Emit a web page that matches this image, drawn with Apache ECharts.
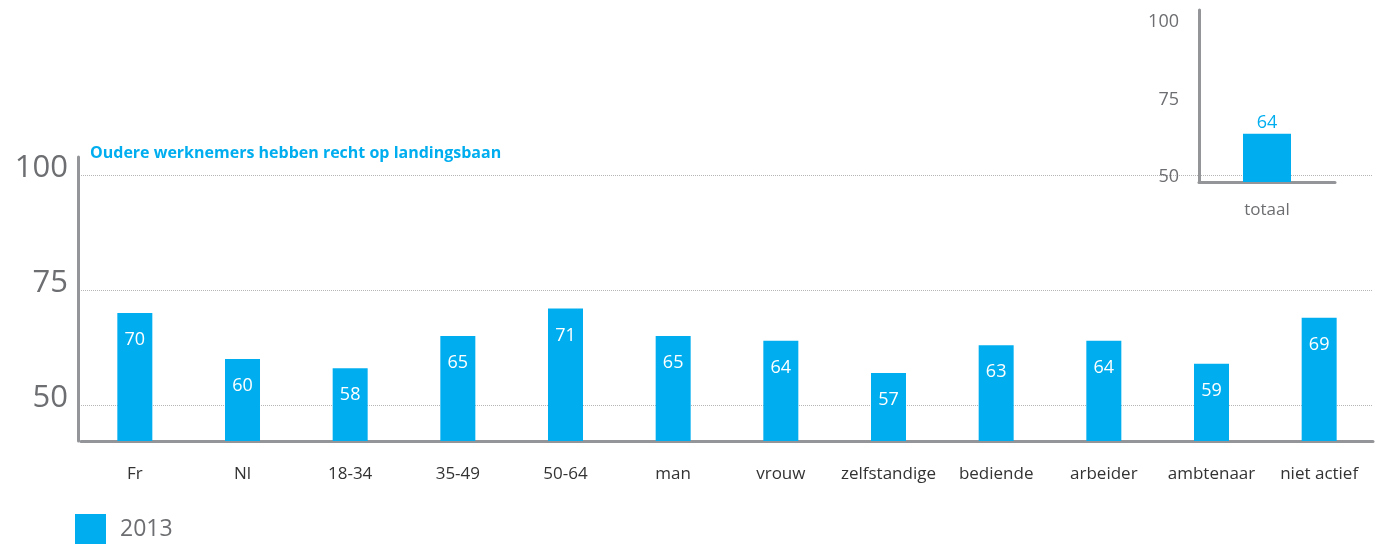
<!DOCTYPE html>
<html>
<head>
<meta charset="utf-8">
<script src="https://cdn.jsdelivr.net/npm/echarts@6/dist/echarts.min.js"></script>
<style>
  html, body { margin: 0; padding: 0; background: #fff; }
  #chart { width: 1392px; height: 544px; }
</style>
</head>
<body>
<div id="chart"></div>
<script>
// data
const categories = ["Fr", "Nl", "18-34", "35-49", "50-64", "man", "vrouw", "zelfstandige", "bediende", "arbeider", "ambtenaar", "niet actief"];
const values2013 = [70, 60, 58, 65, 71, 65, 64, 57, 63, 64, 59, 69];
const totalCategory = ["totaal"];
const total2013 = [64];
const yTicks = [50, 75, 100];

const blue = "#00aeef";
const axisGray = "#939598";
const labelGray = "#6d6e71";
const font = "Open Sans";

let chart = echarts.init(document.getElementById("chart"));

chart.setOption({
  textStyle: { fontFamily: font },
  title: {
    text: "Oudere werknemers hebben recht op landingsbaan",
    left: 90,
    top: 145,
    padding: 0,
    textStyle: { color: blue, fontSize: 16, fontWeight: "bold", fontFamily: font },
  },
  legend: {
    data: ["2013"],
    left: 75,
    top: 514,
    padding: 0,
    itemWidth: 31,
    itemHeight: 30,
    icon: "rect",
    textStyle: { color: labelGray, fontSize: 23, padding: [0, 0, 0, 9] },
  },
  grid: [
    { left: 81, right: 19, top: 157, height: 284 },
    { left: 1199, width: 136, top: 10, height: 172 },
  ],
  xAxis: [
    {
      type: "category",
      gridIndex: 0,
      data: categories,
      axisLine: { lineStyle: { color: axisGray, width: 3 } },
      axisTick: { show: false },
      axisLabel: { color: "#333", fontSize: 17, margin: 25, interval: 0 },
    },
    {
      type: "category",
      gridIndex: 1,
      data: totalCategory,
      axisLine: { lineStyle: { color: axisGray, width: 3 } },
      axisTick: { show: false },
      axisLabel: { color: labelGray, fontSize: 17, margin: 20 },
    },
  ],
  yAxis: [
    {
      type: "value",
      gridIndex: 0,
      min: 42.2,
      max: 103.9,
      offset: 3,
      axisLine: { show: true, lineStyle: { color: axisGray, width: 3 } },
      axisTick: { show: false, customValues: yTicks },
      axisLabel: {
        color: labelGray,
        fontSize: 31,
        margin: 10,
        verticalAlign: "bottom",
        lineHeight: 14,
        customValues: yTicks,
      },
      splitLine: { show: true, lineStyle: { color: "#b5b5b5", type: "dotted" } },
    },
    {
      type: "value",
      gridIndex: 1,
      min: 48.4,
      max: 103.9,
      axisLine: { show: true, lineStyle: { color: axisGray, width: 3 } },
      axisTick: { show: false, customValues: yTicks },
      axisLabel: { color: labelGray, fontSize: 18, margin: 20, customValues: yTicks },
      splitLine: { show: false },
    },
  ],
  series: [
    {
      name: "2013",
      type: "bar",
      xAxisIndex: 0,
      yAxisIndex: 0,
      data: values2013,
      barWidth: 35,
      itemStyle: { color: blue },
      label: {
        show: true,
        position: "insideTop",
        distance: 18,
        color: "#fff",
        fontSize: 18,
      },
    },
    {
      name: "2013",
      type: "bar",
      xAxisIndex: 1,
      yAxisIndex: 1,
      data: total2013,
      barWidth: 48,
      itemStyle: { color: blue },
      label: {
        show: true,
        position: "top",
        distance: 2,
        color: blue,
        fontSize: 18,
      },
    },
  ],
});
</script>
</body>
</html>
